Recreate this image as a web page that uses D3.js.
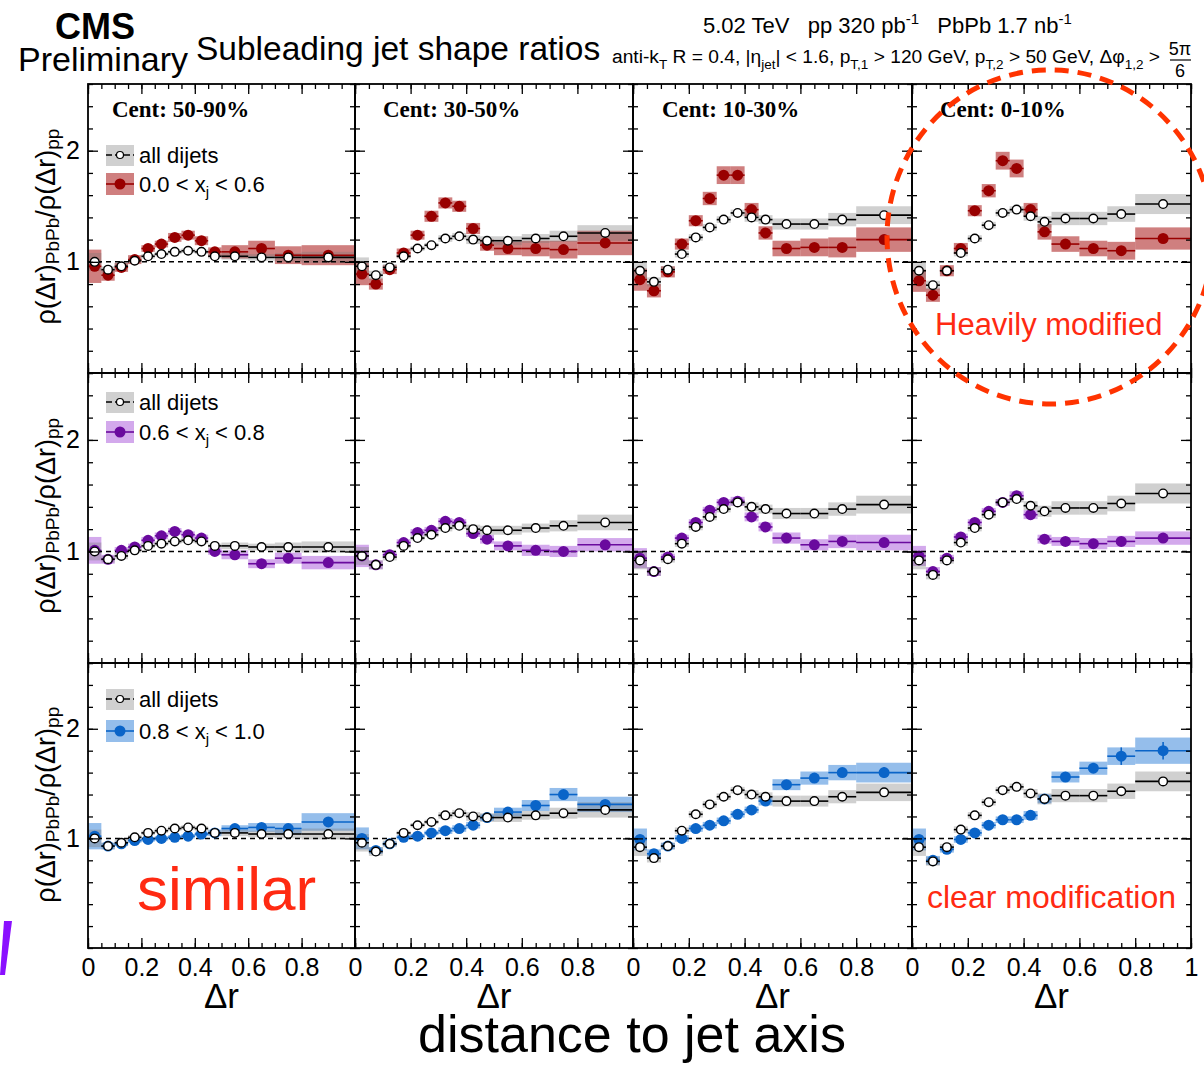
<!DOCTYPE html>
<html>
<head>
<meta charset="utf-8">
<script src="https://cdn.jsdelivr.net/npm/d3@7"></script>
<style>
  body { margin: 0; background: #fff; }
  svg text { font-family: "Liberation Sans", Arial, Helvetica, sans-serif; }
</style>
</head>
<body>
<div id="chart"></div>
<script>
// bins in delta r
const binEdges = [0, 0.05, 0.1, 0.15, 0.2, 0.25, 0.3, 0.35, 0.4, 0.45, 0.5, 0.6, 0.7, 0.8, 1.0];
const centLabels = ["Cent: 50-90%", "Cent: 30-50%", "Cent: 10-30%", "Cent: 0-10%"];
const xjRanges = [["0.0", "0.6"], ["0.6", "0.8"], ["0.8", "1.0"]];
const xTickLabels = [0, 0.2, 0.4, 0.6, 0.8];
const yTickLabels = [1, 2];

// all dijets, one row per centrality
const allDijets = [
  [1.00, 0.93, 0.96, 1.01, 1.05, 1.07, 1.09, 1.10, 1.09, 1.05, 1.05, 1.04, 1.04, 1.04],
  [0.96, 0.88, 0.95, 1.05, 1.12, 1.15, 1.21, 1.23, 1.20, 1.19, 1.19, 1.21, 1.23, 1.26],
  [0.92, 0.82, 0.93, 1.07, 1.22, 1.31, 1.38, 1.44, 1.40, 1.38, 1.34, 1.34, 1.38, 1.42],
  [0.92, 0.79, 0.92, 1.08, 1.21, 1.33, 1.44, 1.47, 1.41, 1.36, 1.39, 1.39, 1.43, 1.52]
];
const sysAll = [
  [0.08, 0.03, 0.03, 0.02, 0.02, 0.02, 0.02, 0.02, 0.02, 0.02, 0.03, 0.03, 0.04, 0.05],
  [0.08, 0.04, 0.03, 0.02, 0.02, 0.02, 0.03, 0.03, 0.04, 0.04, 0.04, 0.04, 0.05, 0.07],
  [0.08, 0.04, 0.03, 0.03, 0.03, 0.03, 0.03, 0.03, 0.04, 0.04, 0.05, 0.05, 0.06, 0.08],
  [0.08, 0.04, 0.03, 0.03, 0.03, 0.03, 0.03, 0.03, 0.04, 0.05, 0.06, 0.06, 0.07, 0.09]
];

// 0.0 < xj < 0.6
const xjLow = [
  [0.96, 0.88, 0.95, 1.02, 1.12, 1.16, 1.22, 1.24, 1.19, 1.09, 1.09, 1.12, 1.06, 1.06],
  [0.89, 0.80, 0.93, 1.08, 1.24, 1.41, 1.53, 1.50, 1.30, 1.15, 1.12, 1.12, 1.11, 1.17],
  [0.84, 0.74, 0.91, 1.16, 1.37, 1.57, 1.78, 1.78, 1.47, 1.26, 1.12, 1.13, 1.13, 1.20],
  [0.83, 0.70, 0.92, 1.12, 1.46, 1.64, 1.91, 1.84, 1.47, 1.27, 1.16, 1.12, 1.10, 1.21]
];
const sysLow = [
  [0.15, 0.05, 0.04, 0.04, 0.03, 0.03, 0.04, 0.04, 0.04, 0.04, 0.06, 0.07, 0.08, 0.09],
  [0.10, 0.05, 0.04, 0.04, 0.04, 0.05, 0.05, 0.05, 0.05, 0.05, 0.06, 0.07, 0.08, 0.11],
  [0.10, 0.06, 0.05, 0.05, 0.05, 0.06, 0.08, 0.08, 0.06, 0.06, 0.07, 0.08, 0.09, 0.11],
  [0.10, 0.06, 0.05, 0.05, 0.05, 0.06, 0.08, 0.08, 0.06, 0.07, 0.07, 0.07, 0.08, 0.10]
];

// 0.6 < xj < 0.8
const xjMid = [
  [1.01, 0.93, 1.01, 1.04, 1.10, 1.14, 1.18, 1.15, 1.12, 1.00, 0.97, 0.89, 0.94, 0.90],
  [0.96, 0.88, 0.97, 1.08, 1.17, 1.19, 1.27, 1.26, 1.16, 1.11, 1.05, 1.01, 1.00, 1.06],
  [0.94, 0.82, 0.95, 1.12, 1.26, 1.37, 1.44, 1.45, 1.31, 1.22, 1.12, 1.06, 1.09, 1.08],
  [0.96, 0.82, 0.94, 1.13, 1.26, 1.36, 1.44, 1.50, 1.33, 1.11, 1.09, 1.07, 1.09, 1.12]
];
const sysMid = [
  [0.12, 0.04, 0.03, 0.03, 0.03, 0.03, 0.03, 0.03, 0.03, 0.03, 0.04, 0.04, 0.05, 0.06],
  [0.10, 0.04, 0.03, 0.03, 0.03, 0.03, 0.03, 0.03, 0.03, 0.04, 0.04, 0.05, 0.05, 0.06],
  [0.09, 0.04, 0.03, 0.03, 0.03, 0.03, 0.03, 0.04, 0.04, 0.04, 0.05, 0.05, 0.06, 0.07],
  [0.09, 0.04, 0.03, 0.03, 0.03, 0.03, 0.03, 0.04, 0.04, 0.04, 0.04, 0.05, 0.05, 0.06]
];

// 0.8 < xj < 1.0
const xjHigh = [
  [1.02, 0.93, 0.95, 0.98, 0.99, 1.00, 1.01, 1.02, 1.04, 1.05, 1.09, 1.10, 1.09, 1.15],
  [1.00, 0.89, 0.95, 1.01, 1.02, 1.05, 1.07, 1.09, 1.12, 1.19, 1.24, 1.30, 1.40, 1.31],
  [0.99, 0.86, 0.93, 1.00, 1.09, 1.12, 1.16, 1.22, 1.26, 1.34, 1.49, 1.55, 1.60, 1.60],
  [0.99, 0.80, 0.90, 0.99, 1.05, 1.12, 1.17, 1.17, 1.21, 1.36, 1.56, 1.64, 1.75, 1.80]
];
const sysHigh = [
  [0.12, 0.03, 0.02, 0.02, 0.02, 0.02, 0.02, 0.02, 0.02, 0.03, 0.03, 0.04, 0.05, 0.08],
  [0.10, 0.03, 0.02, 0.02, 0.02, 0.02, 0.03, 0.03, 0.03, 0.03, 0.04, 0.05, 0.06, 0.07],
  [0.10, 0.04, 0.03, 0.03, 0.03, 0.03, 0.03, 0.03, 0.03, 0.04, 0.05, 0.06, 0.07, 0.09],
  [0.10, 0.04, 0.03, 0.03, 0.03, 0.03, 0.03, 0.03, 0.04, 0.04, 0.05, 0.06, 0.08, 0.12]
];
const statHigh = [
  [0, 0, 0, 0, 0, 0, 0, 0, 0, 0, 0, 0, 0, 0],
  [0, 0, 0, 0, 0, 0, 0, 0, 0, 0, 0, 0, 0.02, 0.02],
  [0, 0, 0, 0, 0, 0, 0, 0, 0, 0, 0.02, 0.03, 0.04, 0.05],
  [0, 0, 0, 0, 0, 0, 0, 0, 0, 0, 0.03, 0.04, 0.08, 0.08]
];

// layout
const W = 1204, H = 1066;
const colEdges = [88, 355, 633, 912, 1191];
const rowEdges = [84, 373, 663, 948];
const yDomain = [0, 2.6];
const grayBox = "rgba(120,120,120,0.35)";
const rowStyles = [
  { vals: xjLow, sys: sysLow, stat: null, color: "#990000", box: "rgba(160,0,0,0.5)" },
  { vals: xjMid, sys: sysMid, stat: null, color: "#6a0a9e", box: "rgba(150,50,210,0.42)" },
  { vals: xjHigh, sys: sysHigh, stat: statHigh, color: "#0a64c8", box: "rgba(20,110,210,0.45)" }
];
const legendY = [[155, 184], [402, 432], [699, 731]];
const centOffset = [24, 28, 29, 28];

const binCenters = binEdges.slice(0, -1).map((e, i) => (e + binEdges[i + 1]) / 2);

const svg = d3.select("#chart").append("svg")
  .attr("width", W)
  .attr("height", H);

function drawBoxes(g, x, y, vals, sys, fill) {
  g.append("g").selectAll("rect")
    .data(vals)
    .join("rect")
    .attr("x", (d, i) => x(binEdges[i]))
    .attr("width", (d, i) => x(binEdges[i + 1]) - x(binEdges[i]))
    .attr("y", (d, i) => y(d + sys[i]))
    .attr("height", (d, i) => y(d - sys[i]) - y(d + sys[i]))
    .attr("fill", fill);
}

function drawPoints(g, x, y, vals, stat, lineColor, fill, r, stroke) {
  const pg = g.append("g");
  pg.selectAll("line.xerr")
    .data(vals)
    .join("line")
    .attr("class", "xerr")
    .attr("x1", (d, i) => x(binEdges[i]))
    .attr("x2", (d, i) => x(binEdges[i + 1]))
    .attr("y1", d => y(d))
    .attr("y2", d => y(d))
    .attr("stroke", lineColor)
    .attr("stroke-width", 1.6);
  if (stat) {
    pg.selectAll("line.yerr")
      .data(vals)
      .join("line")
      .attr("class", "yerr")
      .attr("x1", (d, i) => x(binCenters[i]))
      .attr("x2", (d, i) => x(binCenters[i]))
      .attr("y1", (d, i) => y(d + stat[i]))
      .attr("y2", (d, i) => y(d - stat[i]))
      .attr("stroke", lineColor)
      .attr("stroke-width", 1.6);
  }
  pg.selectAll("circle")
    .data(vals)
    .join("circle")
    .attr("cx", (d, i) => x(binCenters[i]))
    .attr("cy", d => y(d))
    .attr("r", r)
    .attr("fill", fill)
    .attr("stroke", stroke || "none")
    .attr("stroke-width", stroke ? 1.4 : 0);
}

function drawTicks(g, x, y, left, right, top, bottom) {
  const clean = a => a.select(".domain").remove();
  const tickStyle = a => a.selectAll("line").attr("stroke", "#000").attr("stroke-width", 1.3);
  const minorX = x.ticks(20), majorX = x.ticks(5);
  const minorY = y.ticks(13), majorY = yTickLabels;
  g.append("g").attr("transform", `translate(0,${bottom})`)
    .call(d3.axisBottom(x).tickValues(minorX).tickSize(-5).tickFormat("")).call(clean).call(tickStyle);
  g.append("g").attr("transform", `translate(0,${bottom})`)
    .call(d3.axisBottom(x).tickValues(majorX).tickSize(-10).tickFormat("")).call(clean).call(tickStyle);
  g.append("g").attr("transform", `translate(0,${top})`)
    .call(d3.axisTop(x).tickValues(minorX).tickSize(-5).tickFormat("")).call(clean).call(tickStyle);
  g.append("g").attr("transform", `translate(0,${top})`)
    .call(d3.axisTop(x).tickValues(majorX).tickSize(-10).tickFormat("")).call(clean).call(tickStyle);
  g.append("g").attr("transform", `translate(${left},0)`)
    .call(d3.axisLeft(y).tickValues(minorY).tickSize(-5).tickFormat("")).call(clean).call(tickStyle);
  g.append("g").attr("transform", `translate(${left},0)`)
    .call(d3.axisLeft(y).tickValues(majorY).tickSize(-10).tickFormat("")).call(clean).call(tickStyle);
  g.append("g").attr("transform", `translate(${right},0)`)
    .call(d3.axisRight(y).tickValues(minorY).tickSize(-5).tickFormat("")).call(clean).call(tickStyle);
  g.append("g").attr("transform", `translate(${right},0)`)
    .call(d3.axisRight(y).tickValues(majorY).tickSize(-10).tickFormat("")).call(clean).call(tickStyle);
}

// panels
rowEdges.slice(0, -1).forEach((top, r) => {
  const bottom = rowEdges[r + 1];
  const y = d3.scaleLinear().domain(yDomain).range([bottom, top]);
  const st = rowStyles[r];

  colEdges.slice(0, -1).forEach((left, c) => {
    const right = colEdges[c + 1];
    const x = d3.scaleLinear().domain([0, 1]).range([left, right]);
    const g = svg.append("g");

    drawBoxes(g, x, y, st.vals[c], st.sys[c], st.box);
    drawBoxes(g, x, y, allDijets[c], sysAll[c], grayBox);

    g.append("line")
      .attr("x1", left).attr("x2", right)
      .attr("y1", y(1)).attr("y2", y(1))
      .attr("stroke", "#000")
      .attr("stroke-width", 1.5)
      .attr("stroke-dasharray", "5,4");

    drawPoints(g, x, y, st.vals[c], st.stat ? st.stat[c] : null, st.color, st.color, 5.5);
    drawPoints(g, x, y, allDijets[c], null, "#000", "#fff", 4.3, "#000");

    drawTicks(g, x, y, left, right, top, bottom);

    g.append("rect")
      .attr("x", left).attr("y", top)
      .attr("width", right - left).attr("height", bottom - top)
      .attr("fill", "none")
      .attr("stroke", "#000")
      .attr("stroke-width", 1.8);

    if (r === 0) {
      g.append("text")
        .attr("x", left + centOffset[c])
        .attr("y", 117)
        .style("font-family", "'Liberation Serif', 'Times New Roman', serif")
        .attr("font-weight", "bold")
        .attr("font-size", 23)
        .text(centLabels[c]);
    }

    // x labels on the bottom row
    if (r === rowEdges.length - 2) {
      const vals = c === colEdges.length - 2 ? xTickLabels.concat([1]) : xTickLabels;
      const ax = g.append("g").attr("transform", `translate(0,${bottom})`)
        .call(d3.axisBottom(x).tickValues(vals).tickSize(0).tickPadding(10).tickFormat(d => d));
      ax.select(".domain").remove();
      ax.selectAll("text")
        .attr("font-size", 25)
        .style("font-family", "'Liberation Sans', Arial, sans-serif")
        .attr("fill", "#000");

      g.append("text")
        .attr("x", (left + right) / 2)
        .attr("y", 1008)
        .attr("text-anchor", "middle")
        .attr("font-size", 35)
        .text("\u0394r");
    }

    // y labels on the left column
    if (c === 0) {
      const ay = g.append("g").attr("transform", `translate(${left},0)`)
        .call(d3.axisLeft(y).tickValues(yTickLabels).tickSize(0).tickPadding(8).tickFormat(d => d));
      ay.select(".domain").remove();
      ay.selectAll("text")
        .attr("font-size", 25)
        .style("font-family", "'Liberation Sans', Arial, sans-serif")
        .attr("fill", "#000");

      // y title
      const t = svg.append("text")
        .attr("transform", `translate(55,${y(2) - 22}) rotate(-90)`)
        .attr("text-anchor", "end")
        .attr("font-size", 27);
      t.append("tspan").text("\u03c1(\u0394r)");
      t.append("tspan").attr("font-size", 19).attr("dy", 4).text("PbPb");
      t.append("tspan").attr("dy", -4).text("/\u03c1(\u0394r)");
      t.append("tspan").attr("font-size", 19).attr("dy", 4).text("pp");

      // legend
      const [ly1, ly2] = legendY[r];
      const lg = svg.append("g");
      lg.append("rect").attr("x", 106).attr("y", ly1 - 10).attr("width", 28).attr("height", 21).attr("fill", grayBox);
      lg.append("line").attr("x1", 106).attr("x2", 134).attr("y1", ly1).attr("y2", ly1)
        .attr("stroke", "#000").attr("stroke-width", 1.6).attr("stroke-dasharray", "6,3");
      lg.append("circle").attr("cx", 120).attr("cy", ly1).attr("r", 3.5)
        .attr("fill", "#fff").attr("stroke", "#000").attr("stroke-width", 1.2);
      lg.append("text").attr("x", 139).attr("y", ly1 + 8).attr("font-size", 22).text("all dijets");

      lg.append("rect").attr("x", 106).attr("y", ly2 - 11).attr("width", 28).attr("height", 22).attr("fill", st.box);
      lg.append("line").attr("x1", 106).attr("x2", 134).attr("y1", ly2).attr("y2", ly2)
        .attr("stroke", st.color).attr("stroke-width", 1.6);
      lg.append("circle").attr("cx", 120).attr("cy", ly2).attr("r", 5.5).attr("fill", st.color);
      const lt = lg.append("text").attr("x", 139).attr("y", ly2 + 8).attr("font-size", 22);
      lt.append("tspan").text(`${xjRanges[r][0]} < x`);
      lt.append("tspan").attr("font-size", 15).attr("dy", 5).text("j");
      lt.append("tspan").attr("dy", -5).text(` < ${xjRanges[r][1]}`);
    }
  });
});

// header
svg.append("text").attr("x", 55).attr("y", 39).attr("font-size", 36).attr("font-weight", "bold").text("CMS");
svg.append("text").attr("x", 18).attr("y", 71).attr("font-size", 34).text("Preliminary");
svg.append("text").attr("x", 196).attr("y", 60).attr("font-size", 33.5).text("Subleading jet shape ratios");

const lumi = svg.append("text").attr("x", 703).attr("y", 33).attr("font-size", 22).attr("xml:space", "preserve");
lumi.append("tspan").text("5.02 TeV   pp 320 pb");
lumi.append("tspan").attr("font-size", 15).attr("dy", -9).text("-1");
lumi.append("tspan").attr("dy", 9).text("   PbPb 1.7 nb");
lumi.append("tspan").attr("font-size", 15).attr("dy", -9).text("-1");

const cuts = svg.append("text").attr("x", 612).attr("y", 63).attr("font-size", 19.2);
const cutParts = [
  ["anti-k", "T"], [" R = 0.4, |\u03b7", "jet"], ["| < 1.6, p", "T,1"],
  [" > 120 GeV, p", "T,2"], [" > 50 GeV, \u0394\u03c6", "1,2"], [" >", null]
];
let cutShift = 0;
cutParts.forEach(([main, sub]) => {
  cuts.append("tspan").attr("font-size", 19.2).attr("dy", -cutShift).text(main);
  cutShift = 0;
  if (sub) {
    cuts.append("tspan").attr("font-size", 13.5).attr("dy", 6).text(sub);
    cutShift = 6;
  }
});
svg.append("text").attr("x", 1180).attr("y", 55).attr("text-anchor", "middle").attr("font-size", 18).text("5\u03c0");
svg.append("line").attr("x1", 1170).attr("x2", 1191).attr("y1", 60).attr("y2", 60).attr("stroke", "#000").attr("stroke-width", 1.2);
svg.append("text").attr("x", 1180).attr("y", 77).attr("text-anchor", "middle").attr("font-size", 18).text("6");

// bottom title
svg.append("text").attr("x", 632).attr("y", 1052).attr("text-anchor", "middle").attr("font-size", 52).text("distance to jet axis");

// annotations
svg.append("text").attr("x", 137).attr("y", 910).attr("font-size", 62).attr("fill", "#ff2a12").text("similar");
svg.append("text").attr("x", 927).attr("y", 908).attr("font-size", 32).attr("fill", "#ff2a12").text("clear modification");
svg.append("text").attr("x", 935).attr("y", 335).attr("font-size", 31).attr("fill", "#ff2a12").text("Heavily modified");
svg.append("ellipse")
  .attr("cx", 1050).attr("cy", 237).attr("rx", 163).attr("ry", 167)
  .attr("fill", "none")
  .attr("stroke", "#ff3300")
  .attr("stroke-width", 5)
  .attr("stroke-dasharray", "14,9");

// purple stroke from the slide at the left edge
svg.append("path")
  .attr("d", "M4,921 L12,921 L5,975 L0,975 Z")
  .attr("fill", "#8a10ff");
</script>
</body>
</html>
